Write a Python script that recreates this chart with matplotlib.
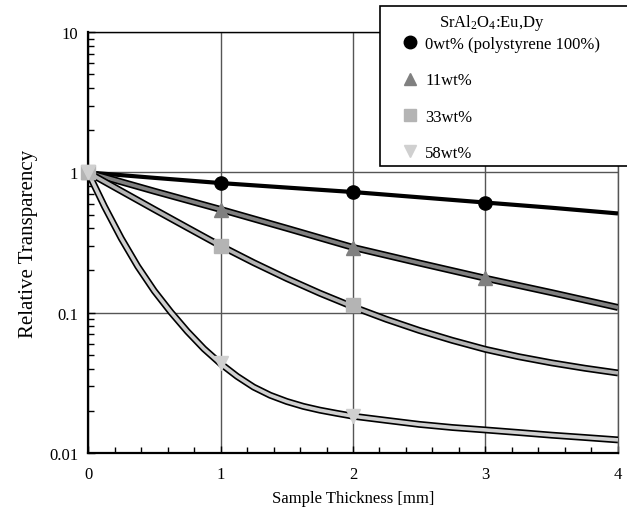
import matplotlib
matplotlib.use("Agg")
from matplotlib import pyplot as plt
from matplotlib.lines import Line2D
from matplotlib.patches import Rectangle
from matplotlib.ticker import FixedLocator, FixedFormatter, LogLocator, NullFormatter, MultipleLocator

plt.rcParams['font.family'] = ['Liberation Serif', 'DejaVu Serif']
plt.rcParams['mathtext.fontset'] = 'custom'
plt.rcParams['mathtext.rm'] = 'Liberation Serif'
plt.rcParams['mathtext.it'] = 'Liberation Serif:italic'

# fitted curves
x0 = [0, 0.5, 1, 1.5, 2, 2.5, 3, 3.5, 4]
y0 = [1, 0.915, 0.84, 0.78, 0.725, 0.665, 0.61, 0.56, 0.51]

x11 = [0, 0.5, 1, 1.5, 2, 2.5, 3, 3.5, 4]
y11 = [1, 0.735, 0.545, 0.40, 0.292, 0.226, 0.176, 0.139, 0.109]

x33 = [0, 0.25, 0.5, 0.75, 1, 1.25, 1.5, 1.75, 2, 2.25, 2.5, 2.75, 3, 3.25, 3.5, 3.75, 4]
y33 = [1, 0.738, 0.545, 0.404, 0.300, 0.2275, 0.1754, 0.1377, 0.1102, 0.0899, 0.0748,
       0.0635, 0.0548, 0.0486, 0.0439, 0.0402, 0.0372]

x58 = [0, 0.125, 0.25, 0.375, 0.5, 0.625, 0.75, 0.875, 1, 1.125, 1.25, 1.375, 1.5,
       1.625, 1.75, 1.875, 2, 2.25, 2.5, 2.75, 3, 3.25, 3.5, 3.75, 4]
y58 = [1, 0.570, 0.340, 0.214, 0.143, 0.101, 0.0735, 0.0553, 0.0434, 0.0352, 0.0295,
       0.0258, 0.0233, 0.0215, 0.0202, 0.0192, 0.0183, 0.0171, 0.0160, 0.0152, 0.0146,
       0.0140, 0.0134, 0.0129, 0.0124]

# measured points
px0 = [0, 1, 2, 3]
py0 = [1, 0.84, 0.725, 0.61]
px11 = [0, 1, 2, 3]
py11 = [1, 0.544, 0.29, 0.176]
px33 = [0, 1, 2]
py33 = [1, 0.30, 0.113]
px58 = [0, 1, 2]
py58 = [1, 0.044, 0.0184]

labels = ["0wt% (polystyrene 100%)", "11wt%", "33wt%", "58wt%"]

c11 = "#808080"
c33 = "#b4b4b4"
c58 = "#d0d0d0"

fig = plt.figure(figsize=(6.27, 5.10), dpi=100)
ax = fig.add_axes([0.1404, 0.1098, 0.8452, 0.8252])

ax.plot(x0, y0, color="black", lw=3, solid_capstyle="butt", solid_joinstyle="round", zorder=3)
for xs, ys, c in [(x11, y11, c11), (x33, y33, c33), (x58, y58, c58)]:
    ax.plot(xs, ys, color="black", lw=5, solid_capstyle="butt", solid_joinstyle="round", zorder=3)
    ax.plot(xs, ys, color=c, lw=2.6, solid_capstyle="butt", solid_joinstyle="round", zorder=3)

ax.plot(px0, py0, "o", color="black", ms=9.5, ls="none", zorder=4, clip_on=False)
ax.plot(px11, py11, "^", color=c11, ms=10, ls="none", zorder=4, clip_on=False)
ax.plot(px33, py33, "s", color=c33, ms=9.5, ls="none", zorder=4, clip_on=False)
ax.plot(px58, py58, "v", color=c58, ms=10, ls="none", zorder=4, clip_on=False)

ax.set_yscale("log")
ax.set_xlim(0, 4)
ax.set_ylim(0.01, 10)
ax.yaxis.set_major_locator(FixedLocator([0.01, 0.1, 1, 10]))
ax.yaxis.set_major_formatter(FixedFormatter(["0.01", "0.1", "1", "10"]))
ax.yaxis.set_minor_locator(LogLocator(base=10, subs=range(2, 10)))
ax.yaxis.set_minor_formatter(NullFormatter())
ax.xaxis.set_major_locator(MultipleLocator(1))
ax.xaxis.set_minor_locator(MultipleLocator(0.2))

ax.tick_params(which="both", direction="in", labelsize=12, colors="black")
ax.tick_params(axis="y", pad=7)
ax.tick_params(axis="x", pad=9)
ax.tick_params(which="major", length=5, width=1)
ax.tick_params(which="minor", length=4, width=1)
ax.grid(True, which="major", color="#555555", lw=1)

ax.spines["left"].set_linewidth(1.6)
ax.spines["bottom"].set_linewidth(1.6)
ax.spines["top"].set_linewidth(1)
ax.spines["right"].set_linewidth(1)
ax.spines["right"].set_color("#555555")

ax.set_xlabel("Sample Thickness [mm]", fontsize=12, labelpad=6)
ax.set_ylabel("Relative Transparency", fontsize=15, labelpad=8)

# legend box overlapping the top right corner
fig.patches.append(Rectangle((0.606, 0.672), 0.45, 0.314, transform=fig.transFigure,
                             facecolor="white", edgecolor="black", lw=1.2, zorder=2))
fig.text(0.785, 1 - 23 / 510, r"SrAl$_\mathrm{2}$O$_\mathrm{4}$:Eu,Dy", fontsize=12,
         ha="center", va="center", zorder=6)

handles = [
    Line2D([], [], marker="o", color="black", ls="none", ms=9),
    Line2D([], [], marker="^", color=c11, ls="none", ms=9),
    Line2D([], [], marker="s", color=c33, ls="none", ms=9),
    Line2D([], [], marker="v", color=c58, ls="none", ms=9),
]
leg = fig.legend(handles, labels, loc="upper left", bbox_to_anchor=(0.6434, 1 - 37 / 510),
                 frameon=False, fontsize=12, handlelength=0.8, handletextpad=0.5,
                 labelspacing=1.22, borderaxespad=0, borderpad=0)
leg.set_zorder(5)

fig.savefig("out.png", dpi=100)
